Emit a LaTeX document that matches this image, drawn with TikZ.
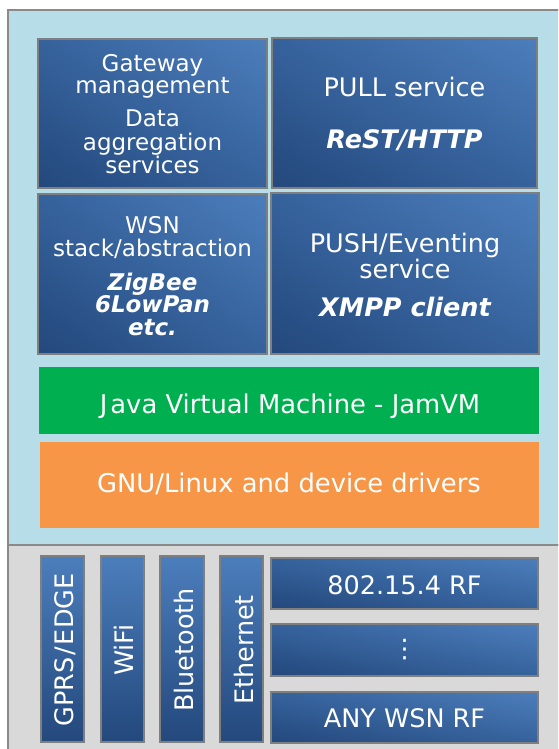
\documentclass[tikz,border=0pt]{standalone}
\usepackage{fontspec}
\setmainfont{DejaVu Sans}
\usetikzlibrary{fit,shadings}

\definecolor{panelblue}{HTML}{B7DDE8}
\definecolor{panelgray}{HTML}{D9D9D9}
\definecolor{frame}{HTML}{8A8A8A}
\definecolor{edge}{HTML}{7F7F7F}
\definecolor{bluedark}{HTML}{23487C}
\definecolor{bluemid}{HTML}{36629C}
\definecolor{bluelight}{HTML}{4C7EBC}
\definecolor{jvmgreen}{HTML}{00B050}
\definecolor{osorange}{HTML}{F79646}

\tikzset{
  blockbox/.style={draw=edge, line width=2.2pt, inner sep=0pt,
    lower left=bluedark, upper right=bluelight,
    upper left=bluemid, lower right=bluemid},
  barbox/.style={draw=edge, line width=2.2pt, inner sep=0pt,
    top color=bluelight, bottom color=bluedark},
  flatbox/.style={inner sep=0pt},
  lbl/.style={text=white, inner sep=0pt, anchor=base},
  small/.style={font=\fontsize{23}{23}\selectfont},
  large/.style={font=\fontsize{25.5}{26}\selectfont},
  wide/.style={font=\fontsize{25.8}{26}\selectfont},
  emph/.style={font=\fontsize{25.5}{26}\selectfont\bfseries\itshape},
  emphs/.style={font=\fontsize{23}{23}\selectfont\bfseries\itshape},
  vlbl/.style={lbl, large, rotate=90},
}

\begin{document}
\begin{tikzpicture}[x=1pt,y=-1pt]
\useasboundingbox (0,0) rectangle (558,749);
\clip (0,0) rectangle (558,749);

% software platform panel and hardware panel
\draw[fill=panelblue, draw=frame, line width=2pt] (8,10) rectangle (580,545);
\draw[fill=panelgray, draw=frame, line width=2pt] (8,545) rectangle (580,770);

% service blocks
\node[blockbox, fit={(38,39) (267,188)}] (gw) {};
\node[blockbox, fit={(272,38) (537,188)}] (pull) {};
\node[blockbox, fit={(38,194) (267,354)}] (wsn) {};
\node[blockbox, fit={(271,193) (539,354)}] (push) {};

% runtime and operating system
\node[flatbox, fill=jvmgreen, fit={(39,367) (539,434)}] (jvm) {};
\node[flatbox, fill=osorange, fit={(40,442) (539,528)}] (os) {};

% Gateway management block
\node[lbl, small] (gw1) at (152.5,72) {Gateway};
\node[lbl, small] (gw2) at (152.5,94) {management};
\node[lbl, small] (gw3) at (152.5,126.7) {Data};
\node[lbl, small] (gw4) at (152.5,150) {aggregation};
\node[lbl, small] (gw5) at (152.5,173.5) {services};

% PULL block
\node[lbl, large] (pull1) at (404.5,97) {PULL service};
\node[lbl, emph] (pull2) at (404.5,148) {ReST/HTTP};

% WSN block
\node[lbl, small] (wsn1) at (152.5,233) {WSN};
\node[lbl, small] (wsn2) at (152.5,256) {stack/abstraction};
\node[lbl, emphs] (wsn3) at (152.5,290) {ZigBee};
\node[lbl, emphs] (wsn4) at (152.5,312.5) {6LowPan};
\node[lbl, emphs] (wsn5) at (152.5,335) {etc.};

% PUSH block
\node[lbl, large] (push1) at (405,252) {PUSH/Eventing};
\node[lbl, large] (push2) at (405,278) {service};
\node[lbl, emph] (push3) at (405,316) {XMPP client};

\node[lbl, wide] (jvmt) at (290,413) {J\kern3pt ava Virtual Machine - JamVM};
\node[lbl, wide] (ost) at (289,492.3) {GNU/Linux and device drivers};

% network interfaces
\node[barbox, fit={(41,556) (84,742)}] (gprs) {};
\node[barbox, fit={(101,556) (144,742)}] (wifi) {};
\node[barbox, fit={(160,556) (204,742)}] (bt) {};
\node[barbox, fit={(220,556) (263,742)}] (eth) {};

\node[vlbl] (gprst) at (73.5,650) {GPRS\kern2pt/\kern2pt EDGE};
\node[vlbl] (wifit) at (133.5,650) {WiFi};
\node[vlbl] (btt) at (193,650) {Bluetooth};
\node[vlbl] (etht) at (253,650) {Ethernet};

% radio interfaces
\node[blockbox, fit={(271,558) (538,609)}] (rf1) {};
\node[blockbox, fit={(271,624) (538,676)}] (rf2) {};
\node[blockbox, fit={(271,692) (538,743)}] (rf3) {};

\node[lbl, large] (rf1t) at (404.5,594) {802.15.4 RF};
\node[text=white, inner sep=0pt, large] (rf2t) at (404.5,650) {⋮};
\node[lbl, large] (rf3t) at (404.5,727.3) {ANY WSN RF};
\end{tikzpicture}
\end{document}
